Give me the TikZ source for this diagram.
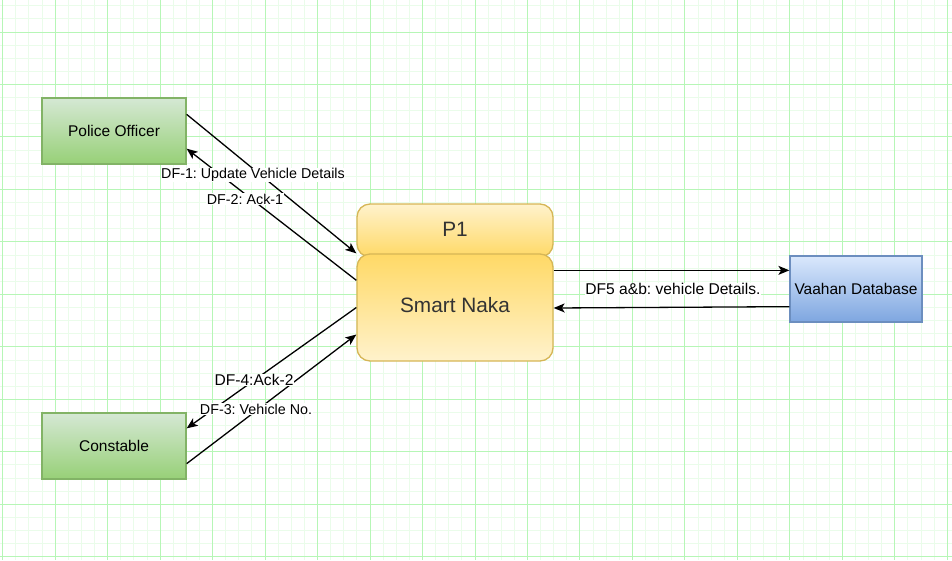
\documentclass[tikz,border=0pt]{standalone}
\usepackage{fontspec}
\setmainfont{Liberation Sans}
\usetikzlibrary{arrows.meta,calc}
\frenchspacing
\definecolor{gminor}{HTML}{EAFCEA}
\definecolor{gmajor}{HTML}{B6F6B6}
\definecolor{greenline}{HTML}{82B366}
\definecolor{greentop}{HTML}{D5E8D4}
\definecolor{greenbot}{HTML}{97D077}
\definecolor{blueline}{HTML}{6C8EBF}
\definecolor{bluetop}{HTML}{DAE8FC}
\definecolor{bluebot}{HTML}{7EA6E0}
\definecolor{yline}{HTML}{D6B656}
\definecolor{ylight}{HTML}{FFF2CC}
\definecolor{ydark}{HTML}{FFD966}
\definecolor{dtext}{HTML}{333333}
\begin{document}
\begin{tikzpicture}[x=1pt,y=-1pt,
  entity/.style={draw=greenline, line width=1.3pt, top color=greentop, bottom color=greenbot,
    minimum width=144pt, minimum height=66pt, inner sep=0pt, font=\fontsize{15.5}{18}\selectfont},
  dbbox/.style={draw=blueline, line width=1.3pt, top color=bluetop, bottom color=bluebot,
    minimum width=132pt, minimum height=66pt, inner sep=0pt, font=\fontsize{15.5}{18}\selectfont},
  headbox/.style={draw=yline, line width=1.3pt, top color=ylight, bottom color=ydark, rounded corners=13pt,
    minimum width=196pt, minimum height=53pt, inner sep=0pt},
  bodybox/.style={draw=yline, line width=1.3pt, top color=ydark, bottom color=ylight, rounded corners=13pt,
    minimum width=196pt, minimum height=107pt, inner sep=0pt},
  bigtext/.style={text=dtext, inner sep=0pt, font=\fontsize{20.8}{24}\selectfont},
  flow/.style={line width=1.3pt, -{Stealth[length=11pt,width=9pt,inset=2.8pt]}},
  lab/.style={fill=white, inner sep=0.5pt, font=\fontsize{14.3}{16}\selectfont},
  labbig/.style={fill=white, inner sep=0.5pt, font=\fontsize{15.6}{18}\selectfont}
]
\useasboundingbox (0,0) rectangle (952,560);
\fill[white] (0,0) rectangle (952,560);
% grid
\foreach \i in {0,...,72} \draw[gminor, line width=1pt] ({2.7+13.12*\i},0) -- ({2.7+13.12*\i},560);
\foreach \j in {0,...,42} \draw[gminor, line width=1pt] (0,{5.76+13.12*\j}) -- (952,{5.76+13.12*\j});
\foreach \i in {0,...,18} \draw[gmajor, line width=1pt] ({2.7+52.48*\i},0) -- ({2.7+52.48*\i},560);
\foreach \j in {0,...,10} \draw[gmajor, line width=1pt] (0,{32+52.48*\j}) -- (952,{32+52.48*\j});

% nodes
\node[entity] (police) at (114,131) {Police Officer};
\node[entity] (constable) at (114,446) {Constable};
\node[headbox] (p1) at (455,230.5) {};
\node[bodybox] (naka) at (455,307.5) {};
\node[bigtext] (p1text) at (455,229.5) {P1};
\node[bigtext] (nakatext) at (455,305.5) {Smart Naka};
\node[dbbox] (vaahan) at (856,289) {Vaahan Database};

% flows
\draw[flow] ($(police.north east)+(0,17)$) -- (naka.north west);
\draw[flow] ($(naka.north west)+(0,27)$) -- ($(police.south east)+(0,-16)$);
\draw[flow] ($(naka.north east)+(0,17)$) -- ($(vaahan.north west)+(0,15)$);
\draw[flow] ($(vaahan.south west)+(0,-16)$) -- ($(naka.east)+(0,0.5)$);
\draw[flow] (naka.west) -- ($(constable.north east)+(0,16)$);
\draw[flow] ($(constable.south east)+(0,-16)$) -- ($(naka.west)+(0,27)$);

% labels
\node[lab] (l1) at (253,175) {DF-1: Update Vehicle Details};
\node[lab] (l2) at (245,199) {DF-2: Ack-1};
\node[labbig] (l5) at (673,289) {DF5 a\&b: vehicle Details.};
\node[labbig] (l4) at (254,380) {DF-4:Ack-2};
\node[lab] (l3) at (256,409) {DF-3: Vehicle No.};
\end{tikzpicture}
\end{document}
